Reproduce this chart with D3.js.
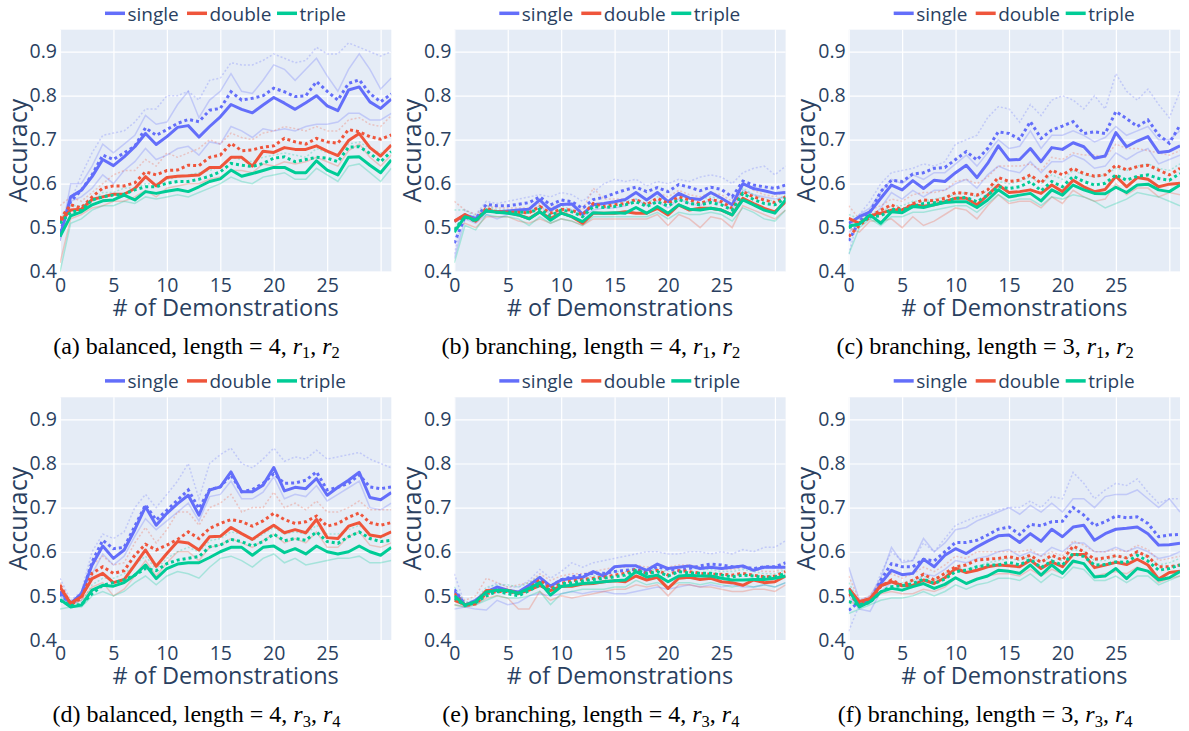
<!DOCTYPE html>
<html><head><meta charset="utf-8">
<script src="https://cdn.jsdelivr.net/npm/d3@7"></script>
<style>body{margin:0;background:#fff}svg{display:block}</style>
</head><body>
<script>
// ---------- tick labels / categories ----------
const seriesNames = ['single','double','triple'];
const yTicks = [0.4,0.5,0.6,0.7,0.8,0.9];
const xTickLabels = [0,5,10,15,20,25];
const xGrid = [0,5,10,15,20,25,30];
const captionPrefix = ['(a) balanced, length = 4, ','(b) branching, length = 4, ','(c) branching, length = 3, ',
                       '(d) balanced, length = 4, ','(e) branching, length = 4, ','(f) branching, length = 3, '];
const captionSubs = [['1','2'],['1','2'],['1','2'],['3','4'],['3','4'],['3','4']];

// ---------- panel (a) ----------
const a_single = [0.48,0.57,0.585,0.616,0.655,0.641,0.661,0.684,0.714,0.689,0.707,0.728,0.732,0.706,0.73,0.752,0.78,0.769,0.761,0.779,0.796,0.783,0.769,0.784,0.80,0.777,0.766,0.813,0.82,0.786,0.771,0.792];
const a_single_dot = [0.49,0.56,0.585,0.62,0.665,0.655,0.67,0.685,0.727,0.71,0.723,0.737,0.746,0.741,0.767,0.771,0.809,0.79,0.794,0.80,0.817,0.809,0.798,0.80,0.832,0.81,0.79,0.828,0.836,0.805,0.786,0.804];
const a_single_hi = [0.48,0.56,0.62,0.67,0.71,0.715,0.72,0.74,0.77,0.77,0.8,0.8,0.81,0.79,0.835,0.84,0.875,0.87,0.87,0.88,0.895,0.885,0.875,0.88,0.91,0.895,0.895,0.92,0.91,0.9,0.89,0.9];
const a_single_mid = [0.47,0.6,0.6,0.64,0.69,0.67,0.69,0.71,0.755,0.735,0.74,0.78,0.81,0.75,0.79,0.81,0.85,0.81,0.805,0.835,0.87,0.86,0.835,0.86,0.885,0.845,0.81,0.86,0.895,0.86,0.815,0.84];
const a_single_lo = [0.47,0.56,0.57,0.59,0.62,0.60,0.63,0.65,0.68,0.655,0.665,0.68,0.685,0.665,0.695,0.69,0.73,0.72,0.705,0.725,0.72,0.725,0.72,0.73,0.735,0.735,0.74,0.76,0.76,0.745,0.745,0.76];
const a_double = [0.515,0.54,0.542,0.564,0.57,0.576,0.576,0.589,0.616,0.595,0.614,0.617,0.618,0.62,0.637,0.637,0.66,0.66,0.64,0.674,0.671,0.682,0.678,0.678,0.686,0.674,0.664,0.698,0.714,0.682,0.663,0.688];
const a_double_dot = [0.52,0.552,0.545,0.57,0.59,0.595,0.595,0.602,0.627,0.62,0.63,0.631,0.642,0.641,0.66,0.665,0.692,0.675,0.677,0.683,0.686,0.703,0.695,0.69,0.703,0.695,0.692,0.723,0.718,0.707,0.701,0.711];
const a_double_hi = [0.55,0.57,0.56,0.58,0.6,0.62,0.63,0.63,0.655,0.64,0.67,0.66,0.67,0.68,0.7,0.69,0.715,0.705,0.7,0.715,0.72,0.73,0.725,0.72,0.73,0.72,0.72,0.745,0.75,0.735,0.73,0.755];
const a_double_lo = [0.42,0.52,0.53,0.545,0.55,0.56,0.56,0.57,0.585,0.57,0.59,0.595,0.6,0.6,0.61,0.615,0.63,0.63,0.625,0.645,0.64,0.65,0.645,0.65,0.66,0.65,0.64,0.675,0.69,0.66,0.64,0.665];
const a_triple = [0.48,0.527,0.536,0.552,0.561,0.563,0.574,0.563,0.582,0.578,0.583,0.587,0.582,0.593,0.605,0.611,0.631,0.617,0.623,0.63,0.637,0.637,0.625,0.625,0.652,0.631,0.62,0.66,0.661,0.642,0.625,0.654];
const a_triple_dot = [0.51,0.535,0.54,0.563,0.57,0.574,0.576,0.586,0.593,0.593,0.601,0.605,0.605,0.61,0.617,0.627,0.646,0.642,0.639,0.646,0.658,0.661,0.65,0.655,0.66,0.658,0.65,0.683,0.684,0.669,0.65,0.673];
const a_triple_hi = [0.52,0.55,0.55,0.56,0.58,0.58,0.59,0.59,0.6,0.6,0.61,0.615,0.62,0.625,0.63,0.64,0.66,0.655,0.65,0.66,0.665,0.67,0.665,0.66,0.68,0.67,0.665,0.69,0.695,0.68,0.67,0.685];
const a_triple_lo = [0.4,0.51,0.52,0.54,0.55,0.55,0.56,0.555,0.57,0.565,0.57,0.575,0.57,0.58,0.59,0.6,0.615,0.605,0.6,0.615,0.62,0.625,0.61,0.61,0.635,0.62,0.605,0.64,0.645,0.625,0.605,0.635];

// ---------- panel (b) ----------
const b_single = [0.514,0.529,0.521,0.538,0.536,0.538,0.54,0.542,0.563,0.54,0.553,0.554,0.531,0.552,0.555,0.559,0.564,0.58,0.563,0.58,0.559,0.578,0.567,0.564,0.58,0.567,0.552,0.6,0.589,0.584,0.578,0.58];
const b_single_dot = [0.465,0.525,0.52,0.553,0.55,0.55,0.553,0.557,0.57,0.552,0.563,0.559,0.544,0.564,0.569,0.578,0.586,0.592,0.582,0.591,0.582,0.598,0.592,0.584,0.592,0.587,0.57,0.606,0.597,0.593,0.589,0.597];
const b_single_hi = [0.44,0.54,0.53,0.56,0.555,0.56,0.565,0.57,0.575,0.57,0.58,0.575,0.56,0.58,0.6,0.61,0.605,0.61,0.595,0.605,0.6,0.61,0.605,0.615,0.62,0.615,0.6,0.625,0.635,0.64,0.62,0.64];
const b_single_lo = [0.43,0.52,0.51,0.53,0.52,0.53,0.535,0.535,0.55,0.53,0.54,0.54,0.525,0.54,0.545,0.545,0.55,0.565,0.55,0.56,0.545,0.565,0.555,0.55,0.565,0.555,0.54,0.585,0.575,0.57,0.565,0.57];
const b_double = [0.515,0.53,0.515,0.54,0.536,0.535,0.529,0.521,0.536,0.521,0.534,0.525,0.51,0.533,0.533,0.533,0.536,0.533,0.533,0.544,0.529,0.552,0.54,0.544,0.544,0.54,0.529,0.567,0.555,0.544,0.536,0.559];
const b_double_dot = [0.515,0.525,0.515,0.545,0.535,0.535,0.535,0.534,0.548,0.533,0.542,0.54,0.529,0.555,0.548,0.552,0.555,0.564,0.552,0.567,0.555,0.57,0.563,0.555,0.564,0.559,0.544,0.582,0.57,0.563,0.557,0.57];
const b_double_hi = [0.56,0.54,0.53,0.55,0.545,0.545,0.545,0.545,0.555,0.545,0.555,0.55,0.54,0.59,0.565,0.565,0.565,0.58,0.565,0.58,0.57,0.585,0.575,0.57,0.58,0.575,0.56,0.6,0.585,0.575,0.57,0.585];
const b_double_lo = [0.5,0.51,0.5,0.525,0.525,0.525,0.515,0.51,0.52,0.51,0.52,0.515,0.505,0.52,0.52,0.52,0.52,0.52,0.52,0.53,0.505,0.53,0.52,0.5,0.525,0.52,0.5,0.55,0.54,0.53,0.52,0.54];
const b_triple = [0.49,0.525,0.517,0.538,0.535,0.533,0.529,0.52,0.536,0.517,0.533,0.525,0.514,0.534,0.533,0.534,0.533,0.546,0.533,0.548,0.533,0.552,0.542,0.54,0.544,0.54,0.529,0.563,0.552,0.54,0.533,0.563];
const b_triple_dot = [0.495,0.525,0.515,0.54,0.535,0.535,0.535,0.535,0.542,0.527,0.54,0.536,0.525,0.548,0.546,0.548,0.552,0.559,0.548,0.559,0.549,0.564,0.555,0.552,0.557,0.552,0.54,0.578,0.564,0.555,0.552,0.567];
const b_triple_hi = [0.54,0.54,0.525,0.55,0.54,0.54,0.54,0.54,0.55,0.535,0.55,0.54,0.53,0.555,0.555,0.555,0.56,0.565,0.555,0.57,0.56,0.575,0.565,0.565,0.57,0.565,0.55,0.59,0.575,0.565,0.56,0.575];
const b_triple_lo = [0.42,0.505,0.495,0.53,0.525,0.525,0.52,0.505,0.525,0.51,0.52,0.515,0.505,0.525,0.525,0.525,0.525,0.525,0.525,0.535,0.52,0.535,0.53,0.53,0.535,0.53,0.515,0.545,0.535,0.52,0.515,0.54];

// ---------- panel (c) ----------
const c_single = [0.51,0.525,0.536,0.567,0.597,0.586,0.607,0.589,0.608,0.605,0.625,0.642,0.614,0.646,0.686,0.654,0.655,0.68,0.65,0.682,0.678,0.693,0.684,0.658,0.663,0.716,0.684,0.697,0.707,0.671,0.674,0.686];
const c_single_dot = [0.47,0.515,0.536,0.582,0.608,0.605,0.622,0.625,0.635,0.637,0.655,0.673,0.654,0.68,0.718,0.714,0.701,0.741,0.703,0.722,0.731,0.741,0.714,0.718,0.714,0.764,0.748,0.73,0.745,0.711,0.692,0.733];
const c_single_hi = [0.44,0.53,0.56,0.6,0.625,0.63,0.635,0.645,0.64,0.65,0.69,0.7,0.71,0.75,0.775,0.77,0.74,0.78,0.755,0.79,0.8,0.79,0.77,0.8,0.77,0.85,0.81,0.79,0.815,0.78,0.75,0.81];
const c_single_mid = [0.5,0.53,0.545,0.58,0.61,0.6,0.62,0.61,0.625,0.625,0.645,0.665,0.64,0.67,0.7,0.68,0.685,0.72,0.68,0.71,0.71,0.72,0.71,0.695,0.705,0.73,0.71,0.72,0.73,0.7,0.7,0.72];
const c_single_lo = [0.49,0.51,0.52,0.545,0.58,0.565,0.585,0.57,0.585,0.585,0.6,0.61,0.59,0.62,0.64,0.63,0.625,0.65,0.625,0.65,0.65,0.665,0.655,0.635,0.64,0.67,0.655,0.67,0.68,0.645,0.655,0.665];
const c_double = [0.521,0.51,0.527,0.533,0.54,0.54,0.552,0.549,0.552,0.559,0.567,0.567,0.552,0.574,0.597,0.58,0.582,0.586,0.578,0.597,0.582,0.608,0.593,0.582,0.587,0.617,0.593,0.614,0.61,0.593,0.599,0.601];
const c_double_dot = [0.48,0.505,0.525,0.54,0.552,0.54,0.555,0.563,0.561,0.567,0.58,0.578,0.574,0.586,0.614,0.605,0.608,0.62,0.601,0.631,0.62,0.635,0.623,0.617,0.62,0.642,0.631,0.639,0.642,0.631,0.62,0.635];
const c_double_hi = [0.55,0.52,0.54,0.55,0.565,0.56,0.575,0.58,0.58,0.585,0.605,0.61,0.6,0.615,0.64,0.64,0.64,0.645,0.63,0.66,0.655,0.67,0.665,0.665,0.66,0.69,0.68,0.68,0.675,0.67,0.665,0.675];
const c_double_lo = [0.5,0.49,0.515,0.515,0.52,0.5,0.525,0.505,0.515,0.53,0.545,0.54,0.52,0.55,0.575,0.555,0.56,0.56,0.545,0.57,0.555,0.585,0.57,0.56,0.565,0.6,0.575,0.59,0.59,0.57,0.58,0.575];
const c_triple = [0.504,0.508,0.529,0.51,0.536,0.534,0.548,0.546,0.552,0.557,0.559,0.559,0.546,0.563,0.586,0.57,0.574,0.578,0.561,0.586,0.574,0.597,0.586,0.578,0.577,0.592,0.58,0.597,0.599,0.586,0.582,0.597];
const c_triple_dot = [0.5,0.51,0.525,0.527,0.542,0.54,0.548,0.555,0.557,0.559,0.567,0.569,0.559,0.574,0.593,0.589,0.593,0.605,0.584,0.605,0.593,0.617,0.605,0.597,0.601,0.62,0.608,0.617,0.62,0.612,0.608,0.623];
const c_triple_hi = [0.53,0.52,0.535,0.535,0.55,0.55,0.56,0.56,0.565,0.57,0.575,0.58,0.57,0.585,0.605,0.6,0.605,0.615,0.6,0.62,0.61,0.63,0.62,0.615,0.62,0.635,0.63,0.64,0.645,0.635,0.63,0.645];
const c_triple_lo = [0.44,0.5,0.52,0.505,0.525,0.525,0.535,0.535,0.54,0.545,0.55,0.55,0.535,0.555,0.575,0.56,0.565,0.565,0.55,0.57,0.565,0.575,0.57,0.56,0.545,0.555,0.565,0.58,0.575,0.57,0.56,0.55];

// ---------- panel (d) ----------
const d_single = [0.51,0.483,0.505,0.57,0.613,0.585,0.604,0.65,0.702,0.66,0.687,0.709,0.728,0.683,0.74,0.747,0.781,0.736,0.736,0.751,0.791,0.738,0.746,0.743,0.766,0.728,0.746,0.762,0.78,0.723,0.718,0.734];
const d_single_dot = [0.505,0.48,0.5,0.577,0.626,0.607,0.61,0.658,0.706,0.672,0.694,0.717,0.74,0.698,0.741,0.747,0.774,0.736,0.741,0.755,0.777,0.755,0.756,0.762,0.781,0.74,0.746,0.755,0.774,0.747,0.743,0.747];
const d_single_hi = [0.54,0.49,0.51,0.6,0.64,0.63,0.645,0.7,0.73,0.7,0.73,0.76,0.8,0.72,0.8,0.82,0.835,0.8,0.79,0.81,0.835,0.805,0.815,0.81,0.83,0.81,0.815,0.82,0.825,0.81,0.8,0.79];
const d_single_lo = [0.5,0.48,0.49,0.55,0.595,0.57,0.59,0.635,0.675,0.65,0.67,0.69,0.71,0.67,0.725,0.73,0.76,0.72,0.72,0.735,0.77,0.72,0.73,0.725,0.75,0.715,0.73,0.745,0.76,0.7,0.695,0.71];
const d_double = [0.52,0.483,0.498,0.539,0.551,0.53,0.537,0.57,0.604,0.567,0.596,0.623,0.62,0.604,0.634,0.635,0.655,0.641,0.628,0.645,0.66,0.643,0.65,0.643,0.673,0.632,0.63,0.658,0.666,0.638,0.634,0.645];
const d_double_dot = [0.525,0.48,0.495,0.551,0.566,0.551,0.557,0.592,0.617,0.604,0.615,0.628,0.645,0.63,0.653,0.664,0.673,0.668,0.658,0.67,0.687,0.673,0.664,0.668,0.681,0.658,0.664,0.678,0.688,0.666,0.66,0.666];
const d_double_hi = [0.53,0.485,0.505,0.57,0.59,0.57,0.575,0.62,0.655,0.62,0.65,0.69,0.69,0.66,0.7,0.71,0.73,0.69,0.7,0.7,0.735,0.7,0.71,0.695,0.715,0.69,0.69,0.7,0.715,0.695,0.695,0.695];
const d_double_lo = [0.51,0.48,0.49,0.52,0.53,0.5,0.515,0.545,0.58,0.545,0.575,0.6,0.6,0.58,0.61,0.615,0.63,0.62,0.61,0.625,0.64,0.62,0.63,0.62,0.645,0.61,0.61,0.635,0.645,0.615,0.61,0.62];
const d_triple = [0.492,0.475,0.479,0.513,0.524,0.522,0.53,0.547,0.57,0.539,0.562,0.572,0.575,0.575,0.587,0.6,0.61,0.61,0.592,0.61,0.613,0.598,0.607,0.595,0.613,0.6,0.595,0.6,0.613,0.6,0.592,0.61];
const d_triple_dot = [0.49,0.478,0.48,0.505,0.524,0.53,0.536,0.547,0.562,0.557,0.573,0.581,0.585,0.589,0.611,0.615,0.628,0.623,0.613,0.623,0.64,0.625,0.63,0.626,0.645,0.623,0.619,0.634,0.645,0.63,0.623,0.626];
const d_triple_hi = [0.5,0.48,0.485,0.525,0.54,0.54,0.55,0.57,0.59,0.56,0.585,0.6,0.61,0.6,0.625,0.63,0.645,0.64,0.625,0.64,0.655,0.64,0.645,0.64,0.66,0.64,0.64,0.65,0.66,0.64,0.63,0.645];
const d_triple_lo = [0.47,0.475,0.475,0.5,0.51,0.5,0.51,0.53,0.545,0.525,0.545,0.555,0.55,0.54,0.565,0.585,0.59,0.58,0.565,0.585,0.595,0.575,0.585,0.57,0.575,0.58,0.585,0.585,0.59,0.575,0.575,0.58];

// ---------- panel (e) ----------
const e_single = [0.51,0.479,0.49,0.509,0.52,0.513,0.509,0.524,0.542,0.522,0.536,0.54,0.542,0.555,0.545,0.566,0.568,0.568,0.558,0.572,0.562,0.565,0.568,0.562,0.565,0.562,0.565,0.568,0.558,0.565,0.565,0.565];
const e_single_dot = [0.515,0.48,0.485,0.505,0.51,0.51,0.505,0.52,0.535,0.521,0.537,0.543,0.547,0.551,0.551,0.555,0.558,0.56,0.552,0.566,0.56,0.557,0.562,0.568,0.572,0.57,0.566,0.566,0.562,0.566,0.566,0.575];
const e_single_hi = [0.55,0.48,0.48,0.515,0.53,0.52,0.52,0.535,0.56,0.54,0.555,0.575,0.565,0.575,0.58,0.585,0.59,0.595,0.6,0.6,0.595,0.595,0.6,0.6,0.595,0.6,0.595,0.605,0.6,0.61,0.61,0.625];
const e_single_lo = [0.47,0.475,0.47,0.468,0.49,0.48,0.485,0.5,0.505,0.5,0.505,0.51,0.505,0.51,0.51,0.505,0.505,0.51,0.515,0.52,0.515,0.52,0.525,0.52,0.525,0.52,0.525,0.52,0.52,0.525,0.52,0.53];
const e_double = [0.49,0.48,0.485,0.512,0.512,0.513,0.506,0.513,0.524,0.512,0.522,0.522,0.527,0.528,0.532,0.534,0.532,0.545,0.536,0.542,0.517,0.54,0.542,0.537,0.54,0.532,0.53,0.524,0.536,0.53,0.532,0.545];
const e_double_dot = [0.505,0.478,0.482,0.505,0.51,0.51,0.505,0.517,0.536,0.517,0.528,0.534,0.537,0.54,0.542,0.547,0.551,0.56,0.551,0.558,0.547,0.557,0.555,0.551,0.549,0.549,0.547,0.551,0.547,0.543,0.545,0.555];
const e_double_hi = [0.51,0.49,0.5,0.54,0.53,0.52,0.525,0.53,0.55,0.535,0.545,0.55,0.55,0.555,0.56,0.565,0.565,0.57,0.565,0.57,0.565,0.57,0.57,0.565,0.565,0.56,0.56,0.565,0.56,0.555,0.555,0.565];
const e_double_lo = [0.48,0.475,0.48,0.495,0.5,0.495,0.47,0.47,0.51,0.49,0.5,0.495,0.5,0.505,0.51,0.515,0.515,0.525,0.52,0.525,0.5,0.525,0.525,0.52,0.52,0.515,0.51,0.51,0.515,0.515,0.51,0.525];
const e_triple = [0.5,0.479,0.487,0.509,0.513,0.512,0.506,0.517,0.53,0.502,0.521,0.524,0.528,0.53,0.532,0.534,0.536,0.555,0.543,0.547,0.532,0.545,0.547,0.545,0.545,0.54,0.536,0.536,0.537,0.537,0.54,0.545];
const e_triple_dot = [0.495,0.478,0.485,0.5,0.51,0.505,0.5,0.512,0.524,0.513,0.527,0.53,0.534,0.537,0.54,0.543,0.547,0.558,0.551,0.555,0.545,0.555,0.552,0.551,0.551,0.547,0.543,0.547,0.545,0.542,0.543,0.551];
const e_triple_hi = [0.52,0.485,0.49,0.52,0.525,0.525,0.52,0.53,0.545,0.52,0.535,0.54,0.54,0.545,0.55,0.555,0.555,0.565,0.56,0.56,0.555,0.565,0.565,0.56,0.56,0.555,0.555,0.56,0.555,0.55,0.55,0.56];
const e_triple_lo = [0.48,0.475,0.48,0.49,0.5,0.495,0.495,0.5,0.51,0.48,0.505,0.51,0.515,0.515,0.515,0.52,0.52,0.535,0.525,0.53,0.52,0.53,0.53,0.525,0.53,0.525,0.52,0.525,0.52,0.525,0.52,0.53];

// ---------- panel (f) ----------
const f_single = [0.517,0.479,0.487,0.528,0.558,0.548,0.551,0.583,0.566,0.592,0.607,0.596,0.611,0.624,0.636,0.638,0.621,0.641,0.624,0.651,0.634,0.656,0.66,0.626,0.641,0.651,0.653,0.656,0.641,0.615,0.616,0.619];
const f_single_dot = [0.467,0.487,0.487,0.536,0.573,0.566,0.566,0.583,0.579,0.6,0.621,0.621,0.626,0.638,0.651,0.656,0.639,0.662,0.659,0.668,0.669,0.7,0.683,0.659,0.668,0.681,0.677,0.679,0.664,0.634,0.638,0.639];
const f_single_hi = [0.42,0.48,0.49,0.55,0.6,0.58,0.58,0.62,0.6,0.63,0.66,0.67,0.68,0.685,0.695,0.7,0.7,0.715,0.7,0.725,0.72,0.78,0.755,0.72,0.74,0.755,0.75,0.765,0.735,0.71,0.72,0.72];
const f_single_mid = [0.565,0.49,0.5,0.54,0.61,0.575,0.58,0.63,0.6,0.62,0.65,0.655,0.67,0.68,0.69,0.7,0.685,0.705,0.69,0.71,0.69,0.72,0.72,0.7,0.725,0.73,0.73,0.74,0.72,0.7,0.72,0.69];
const f_single_lo = [0.5,0.47,0.465,0.51,0.53,0.525,0.52,0.55,0.545,0.56,0.58,0.575,0.585,0.59,0.6,0.605,0.59,0.6,0.59,0.61,0.6,0.62,0.62,0.6,0.6,0.61,0.6,0.61,0.6,0.585,0.59,0.6];
const f_double = [0.517,0.487,0.494,0.523,0.532,0.523,0.524,0.536,0.528,0.541,0.562,0.553,0.558,0.566,0.57,0.568,0.566,0.581,0.562,0.577,0.566,0.594,0.594,0.564,0.57,0.576,0.571,0.583,0.57,0.538,0.553,0.556];
const f_double_dot = [0.505,0.48,0.49,0.521,0.536,0.524,0.536,0.549,0.536,0.551,0.566,0.57,0.581,0.583,0.585,0.589,0.583,0.592,0.576,0.592,0.581,0.613,0.6,0.583,0.586,0.591,0.586,0.6,0.589,0.566,0.566,0.57];
const f_double_hi = [0.545,0.49,0.5,0.535,0.55,0.54,0.55,0.565,0.555,0.57,0.59,0.585,0.6,0.6,0.6,0.6,0.6,0.605,0.59,0.6,0.59,0.625,0.615,0.6,0.6,0.605,0.6,0.615,0.605,0.58,0.585,0.59];
const f_double_lo = [0.49,0.475,0.485,0.505,0.51,0.505,0.505,0.515,0.51,0.52,0.54,0.53,0.54,0.545,0.55,0.55,0.545,0.56,0.545,0.56,0.55,0.575,0.575,0.545,0.55,0.555,0.55,0.565,0.555,0.53,0.54,0.545];
const f_triple = [0.513,0.475,0.487,0.509,0.517,0.513,0.521,0.528,0.517,0.526,0.541,0.528,0.538,0.545,0.558,0.556,0.551,0.57,0.547,0.57,0.551,0.579,0.573,0.543,0.545,0.562,0.539,0.562,0.556,0.536,0.541,0.555];
const f_triple_dot = [0.487,0.48,0.485,0.509,0.521,0.523,0.528,0.538,0.528,0.538,0.555,0.558,0.566,0.57,0.57,0.576,0.57,0.583,0.564,0.579,0.57,0.596,0.589,0.57,0.571,0.577,0.576,0.592,0.579,0.558,0.562,0.57];
const f_triple_hi = [0.53,0.485,0.49,0.52,0.53,0.53,0.535,0.545,0.535,0.55,0.565,0.56,0.565,0.575,0.58,0.585,0.58,0.59,0.575,0.59,0.58,0.605,0.6,0.58,0.58,0.59,0.585,0.6,0.59,0.57,0.575,0.585];
const f_triple_lo = [0.46,0.47,0.48,0.49,0.495,0.495,0.5,0.51,0.5,0.51,0.525,0.515,0.525,0.53,0.54,0.54,0.535,0.55,0.53,0.55,0.54,0.565,0.56,0.535,0.535,0.545,0.53,0.545,0.545,0.525,0.535,0.545];

// [mean solid, mean dotted, faint dotted runs, faint solid runs] per series
const panels = [
  [[a_single,a_single_dot,[a_single_hi],[a_single_mid,a_single_lo]],[a_double,a_double_dot,[a_double_hi],[a_double_lo]],[a_triple,a_triple_dot,[a_triple_hi],[a_triple_lo]]],
  [[b_single,b_single_dot,[b_single_hi],[b_single_lo]],[b_double,b_double_dot,[b_double_hi],[b_double_lo]],[b_triple,b_triple_dot,[b_triple_hi],[b_triple_lo]]],
  [[c_single,c_single_dot,[c_single_hi],[c_single_mid,c_single_lo]],[c_double,c_double_dot,[c_double_hi],[c_double_lo]],[c_triple,c_triple_dot,[c_triple_hi],[c_triple_lo]]],
  [[d_single,d_single_dot,[d_single_hi],[d_single_lo]],[d_double,d_double_dot,[d_double_hi],[d_double_lo]],[d_triple,d_triple_dot,[d_triple_hi],[d_triple_lo]]],
  [[e_single,e_single_dot,[e_single_hi],[e_single_lo]],[e_double,e_double_dot,[e_double_hi],[e_double_lo]],[e_triple,e_triple_dot,[e_triple_hi],[e_triple_lo]]],
  [[f_single,f_single_dot,[f_single_hi],[f_single_mid,f_single_lo]],[f_double,f_double_dot,[f_double_hi],[f_double_lo]],[f_triple,f_triple_dot,[f_triple_hi],[f_triple_lo]]]
];

// ---------- drawing ----------
const W = 1189, H = 731;
const FONT = '"Open Sans", verdana, arial, sans-serif';
const TXT = '#2a3f5f';
const colors = {single:'#636efa', double:'#ef553b', triple:'#00cc96'};
const colLeft = [60, 454.3, 848.7], plotW = 331.3;
const rowTop = [29.7, 397.3], rowBottom = [271.7, 640];

const svg = d3.select('body').append('svg').attr('width', W).attr('height', H);
const defs = svg.append('defs');

panels.forEach((series, p) => {
  const r = Math.floor(p / 3), c = p % 3;
  const x0 = colLeft[c], top = rowTop[r], bot = rowBottom[r];
  const x = d3.scaleLinear().domain([0, 31]).range([x0, x0 + plotW]);
  const y = d3.scaleLinear().domain([0.4, 0.95]).range([bot, top]);
  const g = svg.append('g');

  g.append('rect').attr('x', x0).attr('y', top).attr('width', plotW).attr('height', bot - top).attr('fill', '#e5ecf6');

  // grid
  const gy = g.append('g').attr('transform', `translate(${x0},0)`)
    .call(d3.axisLeft(y).tickValues(yTicks).tickSize(-plotW).tickFormat(''));
  gy.select('.domain').remove();
  gy.selectAll('line').attr('stroke', '#fff').attr('stroke-width', 1.2);
  const gx = g.append('g').attr('transform', `translate(0,${bot})`)
    .call(d3.axisBottom(x).tickValues(xGrid).tickSize(-(bot - top)).tickFormat(''));
  gx.select('.domain').remove();
  gx.selectAll('line').attr('stroke', '#fff').attr('stroke-width', 1.2);

  // clip
  const cid = 'clip' + p;
  defs.append('clipPath').attr('id', cid).append('rect')
    .attr('x', x0).attr('y', top).attr('width', plotW).attr('height', bot - top);
  const plot = g.append('g').attr('clip-path', `url(#${cid})`);
  const line = d3.line().x((d, i) => x(i)).y(d => y(d));

  // faint individual runs
  series.forEach((s, k) => {
    const col = colors[seriesNames[k]];
    s[3].forEach(arr => plot.append('path').attr('d', line(arr)).attr('fill', 'none')
      .attr('stroke', col).attr('stroke-width', 1.5).attr('stroke-opacity', 0.28));
    s[2].forEach(arr => plot.append('path').attr('d', line(arr)).attr('fill', 'none')
      .attr('stroke', col).attr('stroke-width', 1.5).attr('stroke-opacity', 0.28).attr('stroke-dasharray', '2,2'));
  });
  // means
  series.forEach((s, k) => {
    const col = colors[seriesNames[k]];
    plot.append('path').attr('d', line(s[1])).attr('fill', 'none')
      .attr('stroke', col).attr('stroke-width', 3).attr('stroke-dasharray', '3,3');
    plot.append('path').attr('d', line(s[0])).attr('fill', 'none')
      .attr('stroke', col).attr('stroke-width', 3).attr('stroke-linejoin', 'round');
  });

  // tick labels
  const ly = g.append('g').attr('transform', `translate(${x0},0)`)
    .call(d3.axisLeft(y).tickValues(yTicks).tickSize(0).tickPadding(3).tickFormat(d3.format('.1f')));
  ly.select('.domain').remove();
  ly.selectAll('text').attr('font-family', FONT).attr('font-size', 19.5).attr('fill', TXT);
  const lx = g.append('g').attr('transform', `translate(0,${bot})`)
    .call(d3.axisBottom(x).tickValues(xTickLabels).tickSize(0).tickPadding(6.3).tickFormat(d3.format('d')));
  lx.select('.domain').remove();
  lx.selectAll('text').attr('font-family', FONT).attr('font-size', 19.5).attr('fill', TXT);
  [ly, lx].forEach(a => a.attr('font-family', null).attr('font-size', null));

  // axis titles
  g.append('text').attr('x', x0 + plotW / 2).attr('y', bot + 35.5).attr('dy', '0.36em')
    .attr('text-anchor', 'middle').attr('font-family', FONT).attr('font-size', 23.5).attr('fill', TXT)
    .text('# of Demonstrations');
  g.append('text').attr('transform', `translate(${x0 - 33.5},${(top + bot) / 2}) rotate(-90)`)
    .attr('text-anchor', 'middle').attr('font-family', FONT).attr('font-size', 25).attr('fill', TXT)
    .text('Accuracy');

  // legend
  const lyPos = top - 16.4;
  const legOff = [45, 127, 217];
  seriesNames.forEach((nm, k) => {
    const lx0 = x0 + legOff[k];
    g.append('line').attr('x1', lx0).attr('x2', lx0 + 20).attr('y1', lyPos).attr('y2', lyPos)
      .attr('stroke', colors[nm]).attr('stroke-width', 3.5);
    g.append('text').attr('x', lx0 + 22.5).attr('y', lyPos).attr('dy', '0.38em')
      .attr('font-family', FONT).attr('font-size', 19).attr('fill', TXT).text(nm);
  });

  // caption
  const cap = g.append('text').attr('x', x0 + 136.5).attr('y', bot + 82)
    .attr('text-anchor', 'middle').attr('font-family', '"Liberation Serif", "Times New Roman", serif')
    .attr('font-size', 24).attr('fill', '#000');
  cap.append('tspan').text(captionPrefix[p]);
  cap.append('tspan').attr('font-style', 'italic').text('r');
  cap.append('tspan').attr('font-size', 16.5).attr('dy', 4.5).text(captionSubs[p][0]);
  cap.append('tspan').attr('dy', -4.5).text(', ');
  cap.append('tspan').attr('font-style', 'italic').text('r');
  cap.append('tspan').attr('font-size', 16.5).attr('dy', 4.5).text(captionSubs[p][1]);
});
</script>
</body></html>
